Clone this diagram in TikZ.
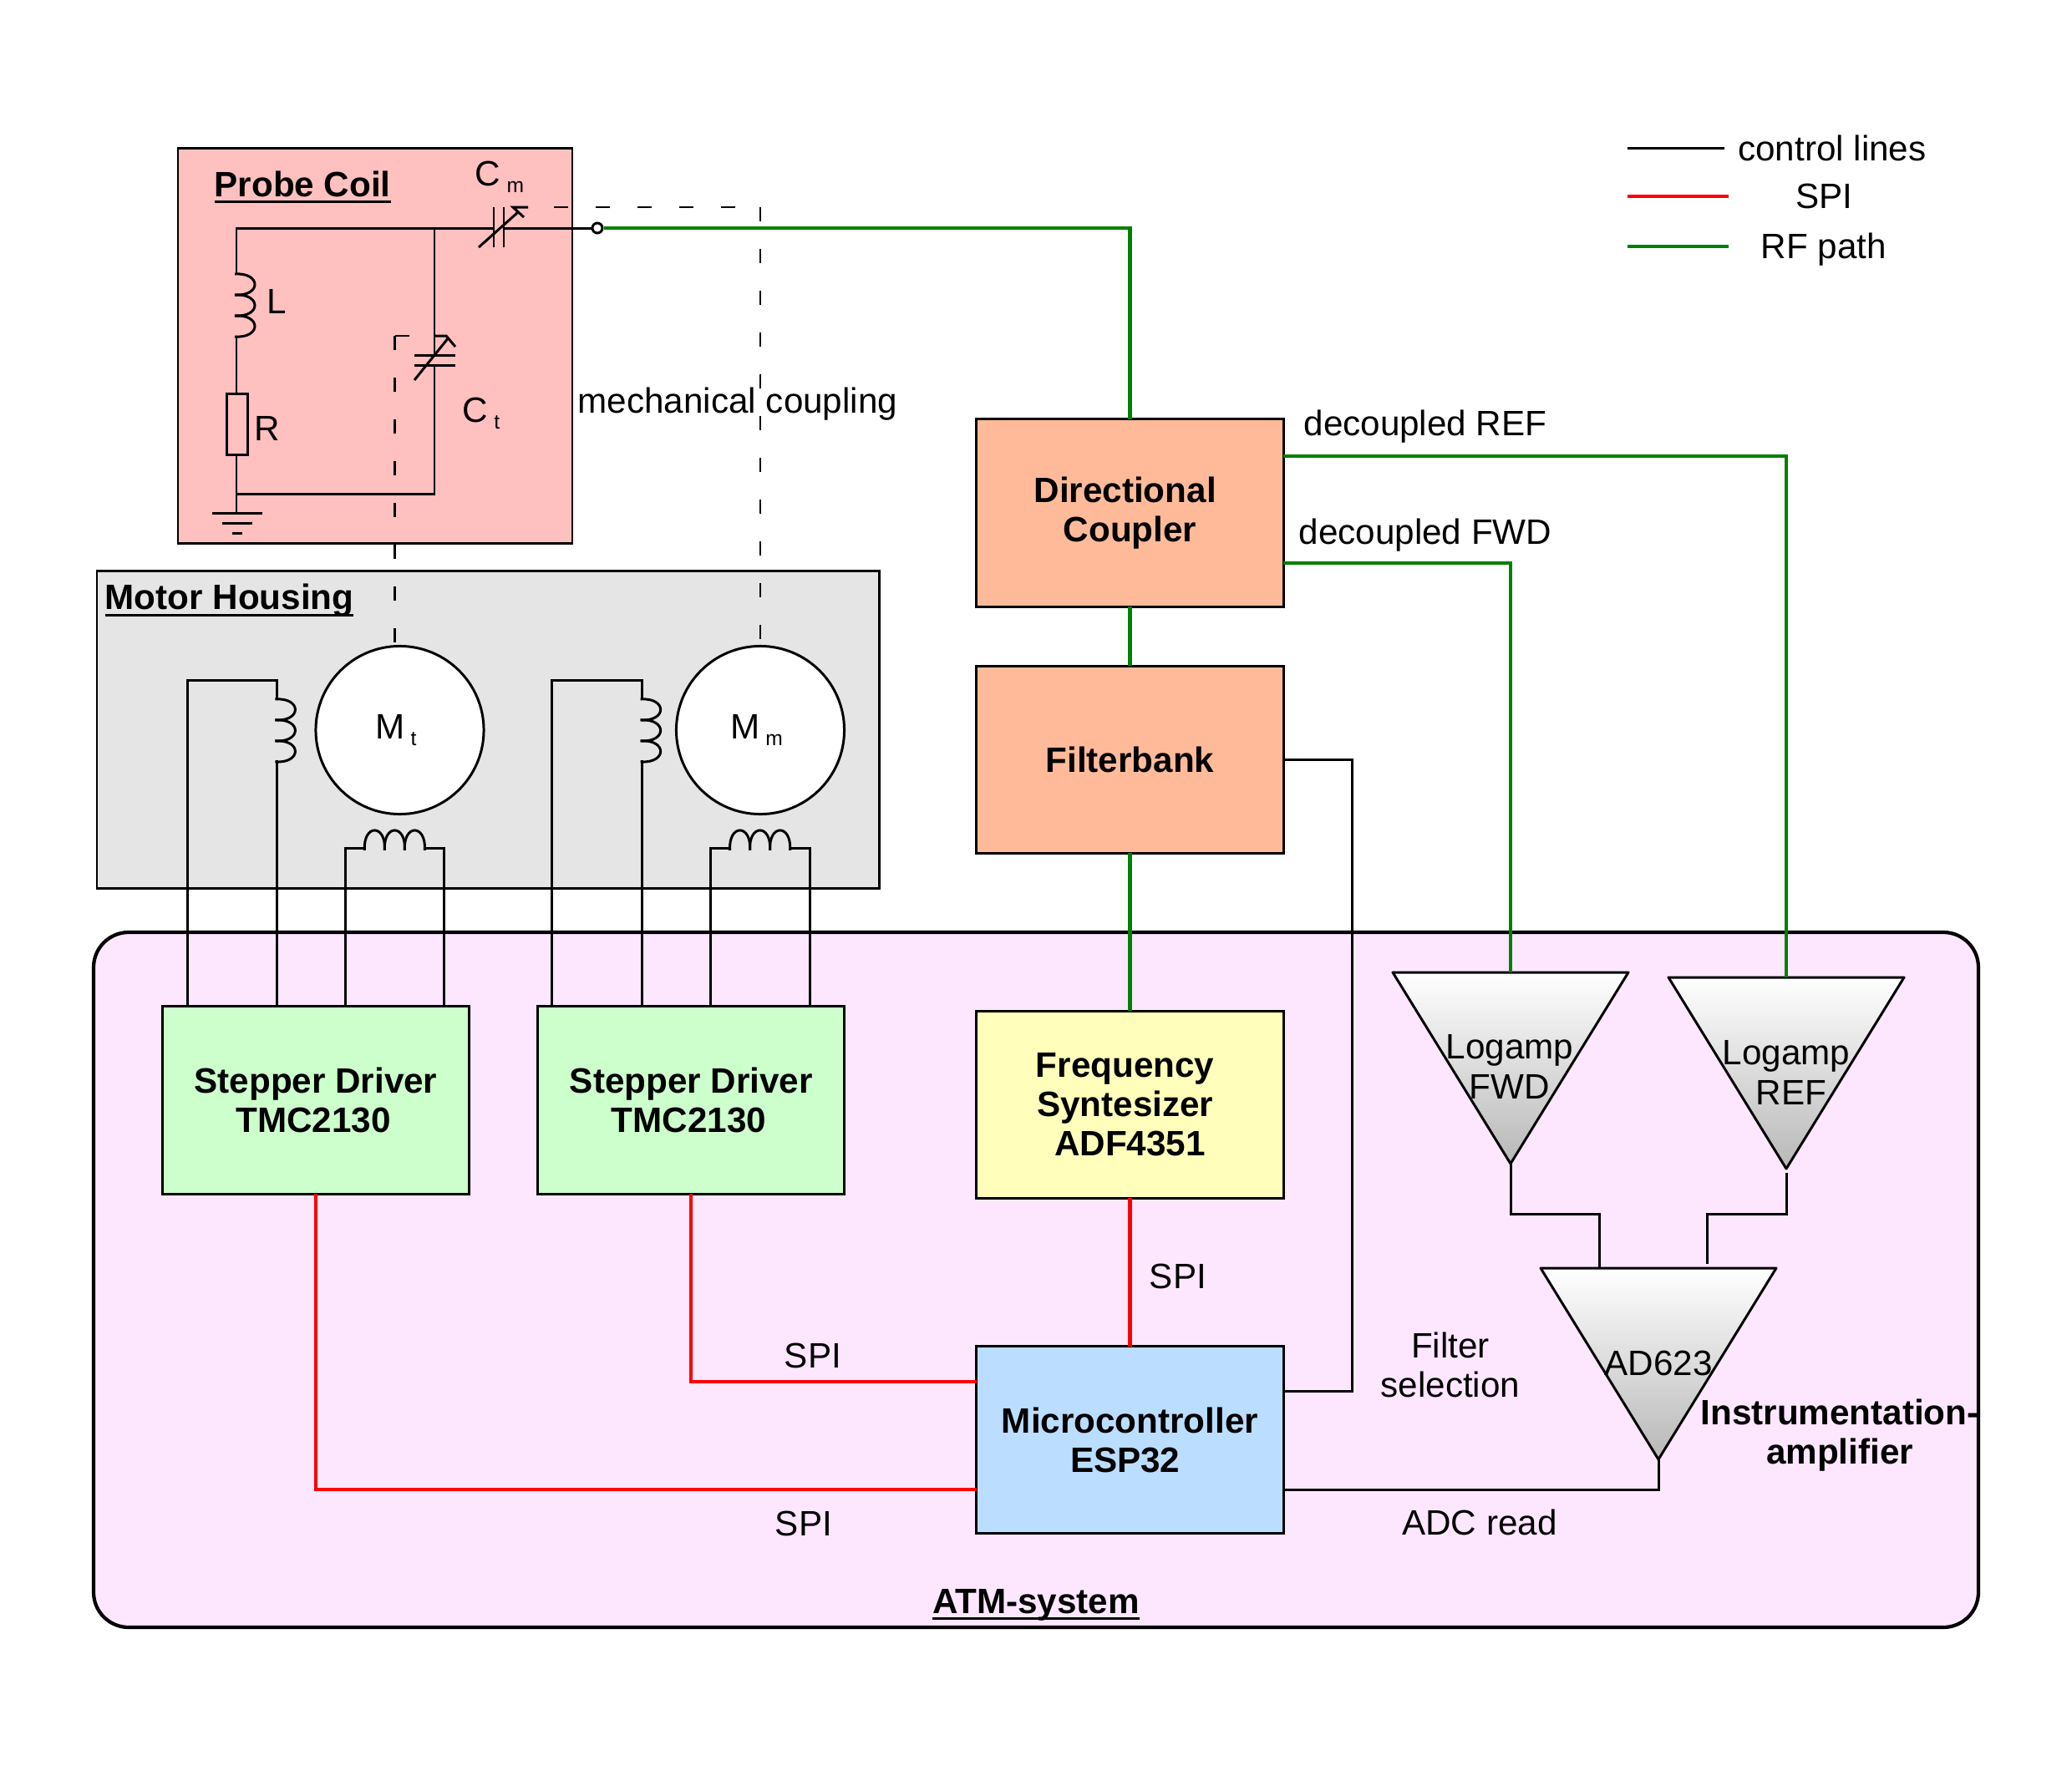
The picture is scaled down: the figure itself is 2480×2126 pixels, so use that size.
\documentclass[tikz,border=0pt]{standalone}
\usepackage{fontspec}
\setmainfont{Liberation Sans}
\usepackage{xcolor}
\usetikzlibrary{calc,positioning}

\definecolor{coilred}{HTML}{FFC0C0}
\definecolor{housegray}{HTML}{E5E5E5}
\definecolor{atmpink}{HTML}{FDE7FF}
\definecolor{drvgreen}{HTML}{CCFFCC}
\definecolor{synthyellow}{HTML}{FFFFBB}
\definecolor{mcublue}{HTML}{BBDDFF}
\definecolor{rforange}{HTML}{FFBB99}
\definecolor{rfgreen}{HTML}{008000}

\newcommand{\basefont}{\fontsize{12}{13.4}\selectfont}
\newcommand{\lowtext}[1]{\,\raisebox{-2.4pt}{\fontsize{7}{7}\selectfont #1}}
\newcommand{\tsp}{\hspace*{3.3pt}}
\newcommand{\ruled}[1]{\setbox0\hbox{#1}\rlap{\rule[-2.3pt]{\wd0}{0.85pt}}\box0}
% three-turn windings, first point given as a coordinate
\newcommand{\vcoil}[1]{\foreach \i in {0,25,50}
  \draw[wire,shift={#1}] (-2,\i) .. controls (30,\i-2) and (30,\i+27) .. (-2,\i+25);}
\newcommand{\hcoil}[1]{\foreach \i in {0,24,48}
  \draw[wire,shift={#1}] (\i,2) .. controls (\i-2,-30) and (\i+26,-30) .. (\i+24,2);}

\begin{document}
\begin{tikzpicture}[x=0.01cm,y=-0.01cm,every node/.style={font=\basefont}]
  \tikzstyle{block}=[draw,line width=0.85pt,align=center,minimum width=3.67cm,minimum height=2.24cm,inner sep=0pt,outer sep=0pt,font=\basefont\bfseries]
  \tikzstyle{tag}=[inner sep=0pt,align=center]
  \tikzstyle{heading}=[inner sep=0pt,align=center,font=\basefont\bfseries]
  \tikzstyle{wire}=[line width=0.85pt,line join=miter]
  \tikzstyle{rfline}=[line width=1.25pt,rfgreen]
  \tikzstyle{spiline}=[line width=1.25pt,red]
  \tikzstyle{mech}=[line width=0.75pt,dash pattern=on 4.84pt off 9.39pt]
  \tikzstyle{amp}=[draw,line width=0.85pt,line join=round,top color=white,bottom color=black!28]
  \useasboundingbox (0,0) rectangle (2480,2126);

  % enclosures
  \draw[line width=1.2pt,fill=atmpink,rounded corners=0.42cm] (112,1116) rectangle (2368,1948);
  \draw[line width=0.85pt,fill=housegray] (116,683) rectangle (1052,1063);
  \draw[line width=0.85pt,fill=coilred] (213,177) rectangle (685,650);
  \node[heading,anchor=west] (probe) at (256,224) {\ruled{Probe Coil}};
  \node[heading,anchor=west] (housing) at (125,719) {\ruled{Motor Housing}};
  \node[heading] (atm) at (1240,1921) {\ruled{ATM-system}};

  % RF chain
  \node[block,fill=rforange] (dir) at (1352.5,614) {Directional\tsp\\Coupler};
  \node[block,fill=rforange,below=0.71cm of dir] (filter) {Filterbank};
  \node[block,fill=synthyellow,below=1.89cm of filter] (synth) {Frequency\tsp\\\mbox{Syntesizer\tsp}\\ADF4351};
  \node[block,fill=mcublue,below=1.77cm of synth] (mcu) {Microcontroller\\ESP32\tsp};
  \node[block,fill=drvgreen] (drvt) at (378,1317) {Stepper Driver\\TMC2130\hspace*{1.6pt}};
  \node[block,fill=drvgreen,right=0.82cm of drvt] (drvm) {Stepper Driver\\TMC2130\hspace*{1.6pt}};

  % motors
  \node[draw,circle,line width=0.85pt,fill=white,minimum size=2.01cm,inner sep=0pt] (mott) at (478.5,874) {\raisebox{-1.8pt}{M\lowtext{t}}\hspace*{2.6pt}};
  \node[draw,circle,line width=0.85pt,fill=white,minimum size=2.01cm,inner sep=0pt] (motm) at (910,874) {\raisebox{-1.8pt}{M\lowtext{m}}\hspace*{2.6pt}};

  % amplifiers
  \foreach \n/\x/\y in {fwd/1808/1164,ref/2138/1170,ina/1985/1518} {
    \coordinate (\n tl) at (\x-141,\y);
    \coordinate (\n tr) at (\x+141,\y);
    \coordinate (\n top) at (\x,\y);
    \coordinate (\n tip) at (\x,\y+229);
    \draw[amp] (\n tl) -- (\n tr) -- (\n tip) -- cycle;
  }
  \node[tag] (fwdtxt) at (1807,1277) {Logamp\\FWD};
  \node[tag] (reftxt) at (2138,1284) {Logamp\\\tsp REF};
  \node[tag] (inatxt) at (1985,1632) {AD623};

  % tank circuit
  \coordinate (cornl) at (283,273);
  \coordinate (cornr) at (520,273);
  \coordinate (lowl) at (283,591);
  \coordinate (lowr) at (520,591);
  \coordinate (gnd) at (283,614);
  \coordinate (cml) at (591,273);
  \coordinate (cmr) at (603,273);
  \coordinate (ctu) at (520,425);
  \coordinate (ctd) at (520,437);
  \node[draw,line width=0.85pt,fill=coilred,minimum width=0.24cm,minimum height=0.72cm,inner sep=0pt,outer sep=0pt] (rbody) at (284,508) {};
  \node[draw,circle,line width=0.85pt,fill=white,minimum size=0.12cm,inner sep=0pt] (term) at (715,273) {};
  \draw[wire] (cml) -- (cornl) -- (283,328);
  \draw[wire] (283,403) -- (283,472);
  \draw[wire] (283,544) -- (gnd);
  \draw[wire] (cornr) -- (ctu);
  \draw[wire] (ctd) -- (lowr) -- (lowl);
  \draw[wire] (cmr) -- (term);
  \vcoil{(283,328)}
  \draw[wire] (254,614) -- (314,614);
  \draw[wire] (266,626) -- (302,626);
  \draw[wire] (278,638) -- (290,638);
  % C_m
  \draw[wire] (591,248) -- (591,296);
  \draw[wire] (603,248) -- (603,296);
  \draw[wire] (573,296) -- (620,254);
  \draw[wire] (632,248) -- (614,248) -- (627,260);
  % C_t
  \draw[wire] (496,425) -- (545,425);
  \draw[wire] (496,437) -- (545,437);
  \draw[wire] (496,455) -- (537,404);
  \draw[wire] (521,402) -- (534,402) -- (545,415);
  \node[tag] (lname) at (331,361) {L};
  \node[tag] (rname) at (320,513) {R};
  \node[tag] (cmname) at (598,212) {C\lowtext{m}};
  \node[tag] (ctname) at (576,495) {C\lowtext{t}};

  % mechanical coupling
  \coordinate (mt) at (472.5,402);
  \coordinate (mtend) at (490,402);
  \coordinate (mtlow) at (472.5,769);
  \coordinate (mm) at (910,248);
  \coordinate (mmstart) at (663,248);
  \coordinate (mmlow) at (910,766);
  \draw[mech] (mt) -- (mtend);
  \draw[mech] (mt) -- (mtlow);
  \draw[mech] (mmstart) -- (mm);
  \draw[mech] (mm) -- (mmlow);
  \node[tag] (coupl) at (883,484) {mechanical coupling};

  % motor windings to the drivers
  \foreach \d/\a/\b/\c/\e in {drvt/30/137/219/337,drvm/17/125/207/326} {
    \draw[wire] ($(\d.north west)+(\a,0)$) -- ($(\d.north west)+(\a,-390)$) -- ($(\d.north west)+(\b,-390)$) -- ($(\d.north west)+(\b,-368)$);
    \draw[wire] ($(\d.north west)+(\b,-295)$) -- ($(\d.north west)+(\b,0)$);
    \vcoil{($(\d.north west)+(\b,-368)$)}
    \draw[wire] ($(\d.north west)+(\c,0)$) -- ($(\d.north west)+(\c,-189)$) -- ($(\d.north west)+(\c+23,-189)$);
    \draw[wire] ($(\d.north west)+(\e,0)$) -- ($(\d.north west)+(\e,-189)$) -- ($(\d.north west)+(\e-23,-189)$);
    \hcoil{($(\d.north west)+(\c+23,-189)$)}
  }

  % RF path
  \draw[rfline] (term) -- (dir.north |- term) -- (dir.north);
  \draw[rfline] (dir) -- (filter);
  \draw[rfline] (filter) -- (synth);
  \draw[rfline] (dir.east |- 0,546) -- (reftop |- 0,546) -- (reftop);
  \draw[rfline] (dir.east |- 0,674) -- (fwdtop |- 0,674) -- (fwdtop);

  % SPI
  \draw[spiline] (synth) -- (mcu);
  \draw[spiline] (drvm.south) -- (drvm.south |- 0,1654) -- (mcu.west |- 0,1654);
  \draw[spiline] (drvt.south) -- (drvt.south |- 0,1783) -- (mcu.west |- 0,1783);

  % control lines
  \draw[wire] (filter.east) -- (1618,0 |- filter.east) -- (1618,1665) -- (mcu.east |- 0,1665);
  \draw[wire] (fwdtip) -- (1808,1453) -- (1914,1453) -- (1914,1518);
  \draw[wire] (2138,1404) -- (2138,1453) -- (2043,1453) -- (2043,1513);
  \draw[wire] (inatip) -- (1985,1783) -- (mcu.east |- 0,1783);

  % line labels
  \node[tag] (lreflab) at (1706,511) {decoupled REF};
  \node[tag] (lfwdlab) at (1706,641) {decoupled FWD};
  \node[tag] (spia) at (1410,1528) {SPI};
  \node[tag] (spib) at (973,1623) {SPI};
  \node[tag] (spic) at (962,1824) {SPI};
  \node[tag] (filtsel) at (1736,1634) {Filter\\selection};
  \node[tag] (adcrd) at (1771,1822) {ADC read};
  \node[heading] (instr) at (2202,1718) {Instrumentation-\\amplifier};

  % key
  \node[tag] (keyc) at (2193,177) {control lines};
  \node[tag] (keys) at (2183,235) {SPI};
  \node[tag] (keyr) at (2183,299) {RF path};
  \coordinate (ka) at (1948,177);
  \coordinate (kb) at (1948,235);
  \coordinate (kc) at (1948,295);
  \draw[wire] (ka) -- ++(116,0);
  \draw[spiline] (kb) -- ++(121,0);
  \draw[rfline] (kc) -- ++(121,0);
\end{tikzpicture}
\end{document}
